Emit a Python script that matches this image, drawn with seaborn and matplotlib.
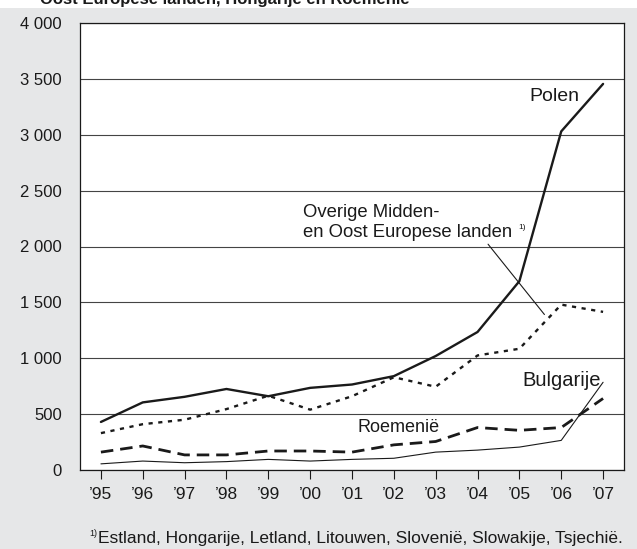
import numpy as np
import pandas as pd
import matplotlib.pyplot as plt
from matplotlib.patches import Rectangle
from matplotlib.ticker import FuncFormatter
import seaborn as sns

# gegevens
jaren = ["’95", "’96", "’97", "’98", "’99", "’00", "’01", "’02", "’03", "’04", "’05", "’06", "’07"]
polen = [430, 605, 655, 725, 660, 735, 765, 840, 1020, 1235, 1690, 3030, 3455]
overige = [330, 410, 450, 545, 665, 540, 660, 830, 745, 1025, 1085, 1480, 1415]
roemenie = [160, 215, 135, 135, 170, 170, 160, 225, 255, 380, 355, 380, 640]
bulgarije = [55, 80, 65, 75, 95, 80, 95, 105, 160, 178, 205, 265, 785]

df = pd.DataFrame({"pos": np.arange(len(jaren)), "Polen": polen, "Overige": overige,
                   "Roemenie": roemenie, "Bulgarije": bulgarije})

sns.set_style("white")
plt.rcParams['font.family'] = ['Liberation Sans', 'DejaVu Sans']
plt.rcParams['lines.scale_dashes'] = False

fig = plt.figure(figsize=(6.37, 5.49), dpi=100, facecolor="white")
fig.patches.append(Rectangle((0, 0), 1, 541 / 549, transform=fig.transFigure,
                             facecolor="#e6e7e8", edgecolor="none", zorder=-10))
ax = fig.add_axes([80 / 637, 79 / 549, 544 / 637, 447 / 549])
ax.set_facecolor("white")

zwart = "#1a1a1a"
sns.lineplot(data=df, x="pos", y="Bulgarije", ax=ax, color=zwart, lw=0.8)
sns.lineplot(data=df, x="pos", y="Roemenie", ax=ax, color=zwart, lw=2.0,
             linestyle=(0, (9, 5)))
sns.lineplot(data=df, x="pos", y="Overige", ax=ax, color=zwart, lw=1.7,
             linestyle=(0, (3, 4)))
sns.lineplot(data=df, x="pos", y="Polen", ax=ax, color=zwart, lw=1.7)

ax.set_xlim(-0.5, len(jaren) - 0.5)
ax.set_ylim(0, 4000)
ax.set_yticks(np.arange(0, 4001, 500))
ax.yaxis.set_major_formatter(FuncFormatter(lambda v, p: f"{int(v):,}".replace(",", " ")))
ax.set_xticks(df["pos"])
ax.set_xticklabels(jaren)
ax.set_xlabel("")
ax.set_ylabel("")
ax.tick_params(axis="y", length=0, pad=13, labelsize=12, colors="#1a1a1a")
ax.tick_params(axis="x", length=6.5, width=0.8, pad=6, labelsize=12.5, colors="#1a1a1a",
               direction="out", bottom=True)
ax.grid(axis="y", color="#444444", lw=0.8)
ax.set_axisbelow(True)
for s in ax.spines.values():
    s.set_visible(True)
    s.set_color("#1a1a1a")
    s.set_linewidth(0.9)

# labels bij de lijnen
ax.text(10.24, 3338, "Polen", fontsize=14, ha="left", va="center", color=zwart)
ax.text(10.07, 805, "Bulgarije", fontsize=14.5, ha="left", va="center", color=zwart)
ax.text(6.13, 376, "Roemenië", fontsize=13, ha="left", va="center", color=zwart)
ax.text(4.84, 2215, "Overige Midden-\nen Oost Europese landen", fontsize=13.3, ha="left",
        va="center", linespacing=1.25, color=zwart)
ax.text(9.98, 2170, "1)", fontsize=6, ha="left", va="center", color=zwart)
ax.annotate("", xy=(10.64, 1372), xytext=(9.21, 2040),
            arrowprops=dict(arrowstyle="-", lw=0.8, color=zwart))

# afgesneden titel bovenaan
fig.text(40 / 637, 1 - 4 / 549, "Oost Europese landen, Hongarije en Roemenië",
         fontsize=12, weight="bold", ha="left", va="baseline", color=zwart)

# voetnoot
fig.text(623 / 637, 1 - 538 / 549,
         "Estland, Hongarije, Letland, Litouwen, Slovenië, Slowakije, Tsjechië.",
         fontsize=12.5, ha="right", va="center", color=zwart)
fig.text(89 / 637, 1 - 533 / 549, "1)", fontsize=6.5, ha="left", va="center", color=zwart)

fig.savefig("out.png", dpi=100, facecolor=fig.get_facecolor())
